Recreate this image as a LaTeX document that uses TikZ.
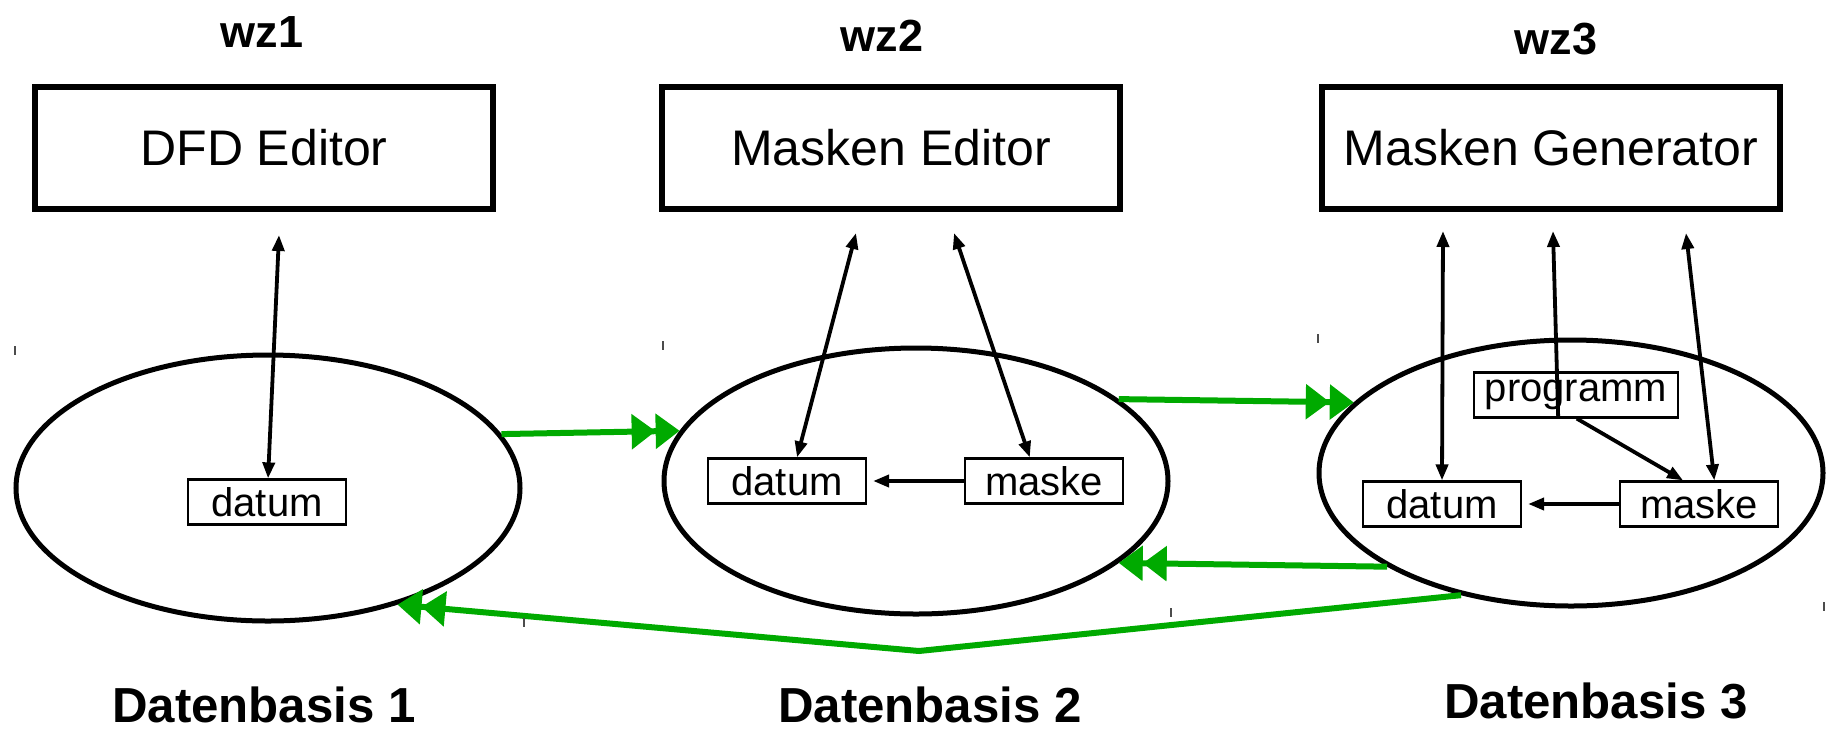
\documentclass[tikz,border=0pt]{standalone}
\usepackage{fontspec}
\setmainfont{Liberation Sans}
\usetikzlibrary{shapes.geometric, arrows.meta}
\definecolor{flowgreen}{RGB}{0,170,0}

\begin{document}
\begin{tikzpicture}
            [x=0.5pt, y=-0.5pt, >={Triangle[length=8pt,width=6pt]},
             tool/.style={draw, line width=2.75pt, minimum width=229pt, minimum height=61pt, inner sep=0pt, font=\fontsize{25}{30}\selectfont},
             base/.style={draw, ellipse, line width=2.5pt, minimum width=252pt, minimum height=133pt, inner sep=0pt},
             item/.style={draw, line width=1.1pt, minimum width=79pt, minimum height=22.5pt, inner sep=0pt, font=\fontsize{20}{24}\selectfont},
             title/.style={anchor=base, inner sep=0pt, font=\fontsize{22.5}{27}\selectfont\bfseries},
             caption/.style={anchor=base, inner sep=0pt, font=\fontsize{24.6}{30}\selectfont\bfseries},
             link/.style={line width=1.9pt},
             flow/.style={-{Triangle[length=12pt,width=17pt,sep=0pt]Triangle[length=12pt,width=17pt]}, draw=flowgreen, line width=3pt},
             tick/.style={draw=black!70, line width=0.6pt}]
            \useasboundingbox (0, 0) rectangle (1827, 729);

            \node[title] (wz1) at (262, 47) {wz1};
            \node[title] (wz2) at (882, 51) {wz2};
            \node[title] (wz3) at (1556, 54) {wz3};

            \node[tool] (dfd) at (264, 148) {DFD Editor};
            \node[tool] (medit) at (891, 148) {Masken Editor};
            \node[tool] (mgen) at (1551, 148) {Masken Generator};

            \node[base] (db1) at (268, 488) {};
            \node[base] (db2) at (916, 481) {};
            \node[base] (db3) at (1571, 473) {};

            \node[item] (datum1) at (267, 502) {datum};
            \node[item] (datum2) at (787, 481) {datum};
            \node[item] (maske2) at (1044, 481) {maske};
            \node[item] (datum3) at (1442, 504) {datum};
            \node[item] (maske3) at (1699, 504) {maske};
            \node[item, minimum width=102pt] (prog3) at (1576, 395) {programm};

            \node[caption] (cap1) at (264, 722) {Datenbasis 1};
            \node[caption] (cap2) at (930, 722) {Datenbasis 2};
            \node[caption] (cap3) at (1596, 718) {Datenbasis 3};

            % free ends below the tools
            \coordinate (t1) at (279, 235);
            \coordinate (t2a) at (856, 233);
            \coordinate (t2b) at (954, 233);
            \coordinate (t3a) at (1443, 231);
            \coordinate (t3b) at (1553, 231);
            \coordinate (t3c) at (1686, 233);
            \coordinate (bend) at (919, 651);

            \path [link, <->] (t1) edge (datum1);
            \path [link, <->] (t2a) edge (datum2.67);
            \path [link, <->] (t2b) edge (maske2.121);
            \path [link, <->] (t3a) edge (datum3.north);
            \path [link, <-] (t3b) edge (prog3.233);
            \path [link, <->] (t3c) edge (maske3.57);
            \path [link, ->] (prog3.272) edge (maske3.124);
            \path [link, ->, shorten >=3pt] (maske2) edge (datum2);
            \path [link, ->, shorten >=3pt] (maske3) edge (datum3);

            % data flow between the bases
            \draw [flow] (db1.13) -- (db2.168);
            \draw [flow] (db2.22) -- (db3.162);
            \draw [flow] (db3.207) -- (db2.338);
            \draw [flow] (db3.228) -- (bend) -- (db1.318);

            \draw [tick] (15, 346) -- (15, 355);
            \draw [tick] (663, 341) -- (663, 350);
            \draw [tick] (1318, 334) -- (1318, 343);
            \draw [tick] (524, 618) -- (524, 627);
            \draw [tick] (1171, 608) -- (1171, 617);
            \draw [tick] (1824, 602) -- (1824, 611);
\end{tikzpicture}
\end{document}
